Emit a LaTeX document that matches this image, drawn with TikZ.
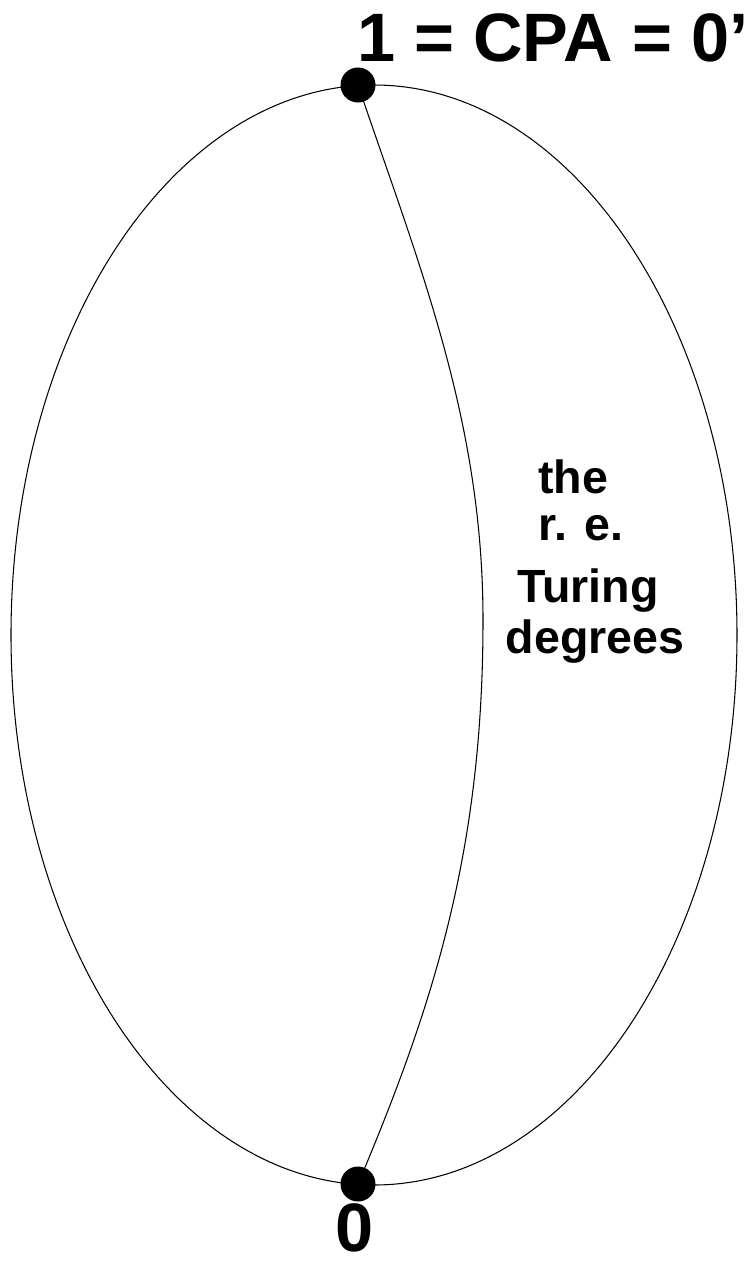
\documentclass[tikz,border=0pt]{standalone}
\usepackage{fontspec}
\setmainfont{Liberation Sans}
\usetikzlibrary{positioning}

\begin{document}
\begin{tikzpicture}[
  x=0.02cm, y=-0.02cm,
  dot/.style={circle, fill=black, inner sep=0pt, minimum size=0.7cm},
  big/.style={font=\fontsize{39}{40}\selectfont\bfseries, inner sep=0pt},
  lbl/.style={font=\fontsize{26.5}{30}\selectfont\bfseries, inner sep=0pt, anchor=base}
]
  \useasboundingbox (0,0) rectangle (748,1262);
  \draw[line width=0.6pt] (374,635) ellipse [x radius=363, y radius=550];
  \coordinate (mid) at (483,620);
  \node[dot] (top) at (358,85) {};
  \node[dot] (bot) at (358,1184) {};
  \draw[line width=0.6pt] (top.center) .. controls (419,265) and (483,420) .. (mid)
    .. controls (483,850) and (434,1004) .. (bot.center);
  \node[big, anchor=base west] (one) at (357,61) {1 = CPA = 0'};
  \node[big, anchor=base] (zero) at (355,1251) {0};
  \foreach \i/\txt/\xc/\yb in {1/the/573/493, 2/r. e./581/540, 3/Turing/588/602, 4/degrees/595/653}{
    \node[lbl] (deg\i) at (\xc,\yb) {\txt};
  }
\end{tikzpicture}
\end{document}
